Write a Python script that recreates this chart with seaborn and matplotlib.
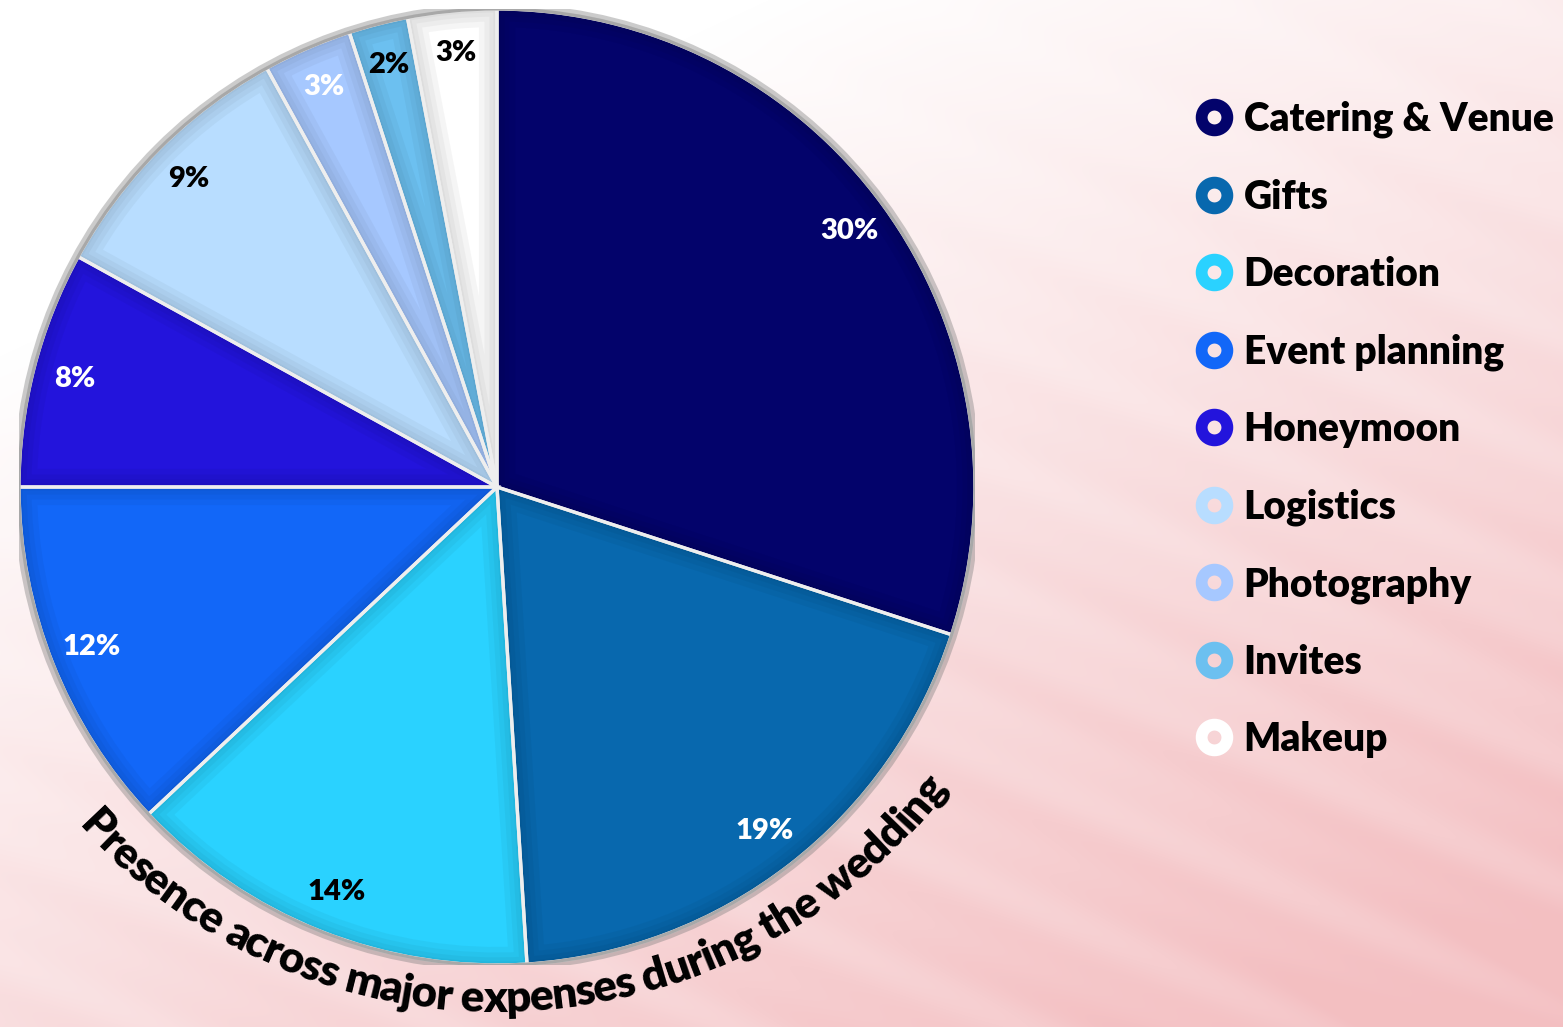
import matplotlib
matplotlib.use('Agg')
import numpy as np
import matplotlib.pyplot as plt
import seaborn as sns
import matplotlib.colors as mcolors
from matplotlib.patches import Wedge, Circle
from matplotlib.lines import Line2D
from matplotlib.font_manager import FontProperties

# ---------------- data ----------------
categories = ["Catering & Venue", "Gifts", "Decoration", "Event planning",
              "Honeymoon", "Logistics", "Photography", "Invites", "Makeup"]
shares = [30, 19, 14, 12, 8, 9, 3, 2, 3]
slice_colors = ["#03036B", "#0868AE", "#2AD2FF", "#1267F8", "#2314DC",
                "#B8DDFF", "#A6C8FF", "#6CC0F0", "#FFFFFF"]
label_colors = ["white", "white", "black", "white", "white",
                "black", "white", "black", "black"]
title_text = "Presence across major expenses during the wedding"

# ---------------- style ----------------
sns.set_theme(style="white")
palette = sns.color_palette(slice_colors)
FAM = ['Lato', 'DejaVu Sans']
plt.rcParams['font.family'] = FAM
plt.rcParams['text.color'] = 'black'

W, H = 1563, 1027
fig = plt.figure(figsize=(W / 100, H / 100), dpi=100)

# background gradient (white top-left -> soft pink bottom-right, with faint streaks)
bg = fig.add_axes([0, 0, 1, 1])
bg.axis('off')
yy, xx = np.mgrid[0:H, 0:W].astype(float)
t = 0.55 * xx / W + 0.78 * yy / H - 0.27
streak = 0.07 * np.sin(2 * np.pi * (yy - 0.5 * xx) / 140.0) + 0.04 * np.sin(2 * np.pi * (yy - 0.42 * xx) / 61.0)
t = np.clip(t * (1 + streak), 0, 1)
pink = np.array([0.955, 0.75, 0.76])
img = 1 - t[..., None] * (1 - pink)
bg.imshow(img, extent=[0, 1, 0, 1], aspect='auto', origin='upper')
bg.set_xlim(0, 1)
bg.set_ylim(0, 1)

# ---------------- pie ----------------
R_PX = 478.0
ax = fig.add_axes([19 / W, 62 / H, 956 / W, 956 / H])
wedges, texts, autotexts = ax.pie(
    shares, colors=palette, startangle=90, counterclock=False, radius=1.0,
    autopct=lambda p: f"{p:.0f}%", pctdistance=0.912,
    wedgeprops=dict(edgecolor='none', linewidth=0),
    textprops=dict(fontsize=21, fontweight='heavy', family=FAM))
ax.set_xlim(-1, 1)
ax.set_ylim(-1, 1)
ax.axis('off')

# soft bevel inside each wedge
for w, c in zip(wedges, slice_colors):
    rgb = np.array(mcolors.to_rgb(c))
    dark = tuple(rgb * 0.55)
    for lw in (26, 18, 11, 5):
        band = Wedge(w.center, w.r, w.theta1, w.theta2, facecolor='none',
                     edgecolor=dark, linewidth=lw, alpha=0.08, zorder=2)
        ax.add_patch(band)
        band.set_clip_path(w)
    sep = Wedge(w.center, w.r, w.theta1, w.theta2, facecolor='none',
                edgecolor='#EEEEEE', linewidth=2.4, zorder=3)
    ax.add_patch(sep)

ax.add_patch(Circle((0, 0), 1.006, fill=False, edgecolor='#7E7E7E', linewidth=4, alpha=0.4, zorder=3.5))
ax.add_patch(Circle((0, 0), 1.0, fill=False, edgecolor='#A8A8A8', linewidth=2.2, zorder=4))

for at, col in zip(autotexts, label_colors):
    at.set_color(col)
    at.set_zorder(6)

# ---------------- legend ----------------
handles = [Line2D([], [], linestyle='none', marker='o', markersize=18.5,
                  markerfacecolor='none', markeredgecolor=c, markeredgewidth=8.5)
           for c in slice_colors]
leg = fig.legend(handles, categories, loc='upper left',
                 bbox_to_anchor=(1195 / W, 1 - 101 / H),
                 frameon=False, prop=dict(family=FAM, weight='heavy', size=28),
                 labelcolor='black',
                 handlelength=1.0, handletextpad=0.25, labelspacing=1.035,
                 borderpad=0, borderaxespad=0)

# ---------------- curved title ----------------
fig.canvas.draw()
rend = fig.canvas.get_renderer()


def adv(s, fp):
    a = rend.get_text_width_height_descent(s + 'l', fp, ismath=False)[0]
    b = rend.get_text_width_height_descent('l', fp, ismath=False)[0]
    return a - b


TRACK = 0.965
fp0 = FontProperties(family=FAM, weight='heavy', size=30)
target_px = 990.0
size = 30 * target_px / (adv(title_text, fp0) * TRACK)
fp = FontProperties(family=FAM, weight='heavy', size=size)
total = adv(title_text, fp) * TRACK
ARC_R_PX = 565.0           # radius of the title's baseline arc
ARC_DY_PX = 40.0           # arc centre sits above the pie centre
rb = ARC_R_PX / R_PX
cy = ARC_DY_PX / R_PX
center_ang = -87.5
for i, ch in enumerate(title_text):
    if ch == ' ':
        continue
    a0 = adv(title_text[:i], fp) * TRACK
    a1 = adv(title_text[:i + 1], fp) * TRACK
    s = (a0 + a1) / 2 - total / 2
    ang = center_ang + np.degrees(s / ARC_R_PX)
    th = np.radians(ang)
    ax.text(rb * np.cos(th), cy + rb * np.sin(th), ch, rotation=ang + 90,
            rotation_mode='anchor', ha='center', va='baseline',
            fontproperties=fp, color='black', clip_on=False, zorder=7)

fig.savefig('out.png', dpi=100)
